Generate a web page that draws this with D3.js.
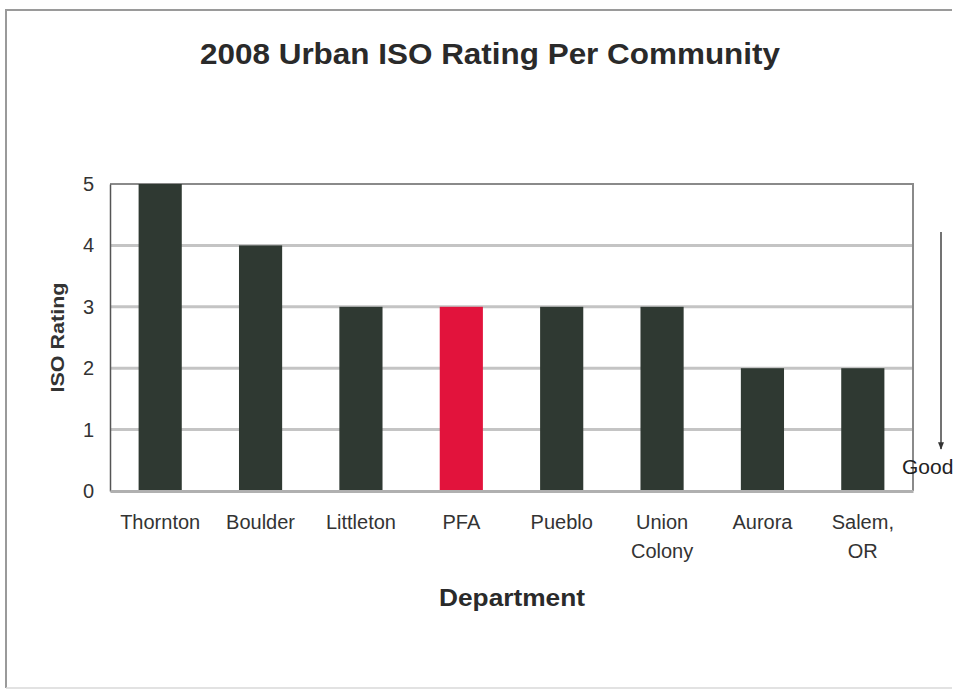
<!DOCTYPE html>
<html>
<head>
<meta charset="utf-8">
<script src="https://cdn.jsdelivr.net/npm/d3@7"></script>
<style>
  html, body { margin: 0; padding: 0; background: #fff; }
  svg { display: block; font-family: Arial, "Liberation Sans", sans-serif; }
</style>
</head>
<body>
<svg id="chart" width="959" height="694"></svg>
<script>
// ISO ratings per fire department (lower is better)
const departments = ["Thornton", "Boulder", "Littleton", "PFA", "Pueblo", "Union\nColony", "Aurora", "Salem,\nOR"];
const ratings = [5, 4, 3, 3, 3, 3, 2, 2];
const highlighted = ["PFA"];
const yTicks = [0, 1, 2, 3, 4, 5];

const svg = d3.select("#chart");
const W = 959, H = 694;
const m = { left: 110, right: 913, top: 184, bottom: 491 };

// outer frame
svg.append("path")
  .attr("d", `M6,${H - 6} L6,10 L952,10`)
  .attr("fill", "none").attr("stroke", "#9a9a9a").attr("stroke-width", 2);
svg.append("line")
  .attr("x1", 6).attr("x2", 952).attr("y1", H - 6).attr("y2", H - 6)
  .attr("stroke", "#d8d8d8").attr("stroke-width", 1.5);

const x = d3.scaleBand().domain(departments).range([m.left, m.right]).paddingInner(0.57).paddingOuter(0.285);
const y = d3.scaleLinear().domain([0, 5]).range([m.bottom, m.top]);

// gridlines
svg.append("g").selectAll("line").data(yTicks.filter(t => t > 0 && t < 5)).join("line")
  .attr("x1", m.left).attr("x2", m.right)
  .attr("y1", d => y(d)).attr("y2", d => y(d))
  .attr("stroke", "#c4c4c4").attr("stroke-width", 3);

// plot frame (top & right)
svg.append("path")
  .attr("d", `M${m.left},${y(5)} L${m.right},${y(5)} L${m.right},${m.bottom}`)
  .attr("fill", "none").attr("stroke", "#8a8a8a").attr("stroke-width", 2);

// bars
svg.append("g").selectAll("rect").data(departments).join("rect")
  .attr("x", d => x(d))
  .attr("width", x.bandwidth())
  .attr("y", (d, i) => y(ratings[i]))
  .attr("height", (d, i) => y(0) - y(ratings[i]))
  .attr("fill", d => highlighted.includes(d) ? "#e2133c" : "#2f3932");

// y axis
const yAxis = svg.append("g").attr("transform", `translate(${m.left},0)`)
  .call(d3.axisLeft(y).tickValues(yTicks).tickSize(0).tickPadding(16).tickFormat(d3.format("d")));
yAxis.select(".domain").attr("stroke", "#555").attr("stroke-width", 1.5);
yAxis.selectAll("text").attr("font-size", 20).attr("fill", "#333");

// x axis
const xAxis = svg.append("g").attr("transform", `translate(0,${m.bottom})`)
  .call(d3.axisBottom(x).tickSize(0).tickFormat(""));
xAxis.select(".domain").attr("stroke", "#b0b0b0").attr("stroke-width", 3);
xAxis.selectAll(".tick").each(function(d) {
  const t = d3.select(this).append("text")
    .attr("fill", "#333").attr("font-size", 20).attr("text-anchor", "middle");
  d.split("\n").forEach((line, i) => {
    t.append("tspan").attr("x", 0).attr("y", 38 + i * 29).text(line);
  });
});

// titles
svg.append("text").attr("x", 490).attr("y", 64).attr("text-anchor", "middle")
  .attr("font-size", 29).attr("font-weight", "bold").attr("fill", "#2a2a2a")
  .attr("textLength", 580).attr("lengthAdjust", "spacingAndGlyphs")
  .text("2008 Urban ISO Rating Per Community");
svg.append("text").attr("x", 512).attr("y", 606).attr("text-anchor", "middle")
  .attr("font-size", 24).attr("font-weight", "bold").attr("fill", "#2a2a2a")
  .attr("textLength", 146).attr("lengthAdjust", "spacingAndGlyphs")
  .text("Department");
svg.append("text")
  .attr("transform", `translate(64,${(m.top + m.bottom) / 2}) rotate(-90)`)
  .attr("text-anchor", "middle").attr("font-size", 18).attr("font-weight", "bold").attr("fill", "#333")
  .attr("textLength", 110).attr("lengthAdjust", "spacingAndGlyphs")
  .text("ISO Rating");

// "better" arrow
svg.append("defs").append("marker")
  .attr("id", "ah").attr("viewBox", "0 0 10 10").attr("refX", 9).attr("refY", 5)
  .attr("markerWidth", 5).attr("markerHeight", 5).attr("orient", "auto")
  .append("path").attr("d", "M0,1 L10,5 L0,9 Z").attr("fill", "#333");
svg.append("line").attr("x1", 941).attr("x2", 941).attr("y1", 232).attr("y2", 449)
  .attr("stroke", "#444").attr("stroke-width", 1.5).attr("marker-end", "url(#ah)");
svg.append("text").attr("x", 902).attr("y", 474).attr("font-size", 21)
  .attr("fill", "#222")
  .text("Good");
</script>
</body>
</html>
